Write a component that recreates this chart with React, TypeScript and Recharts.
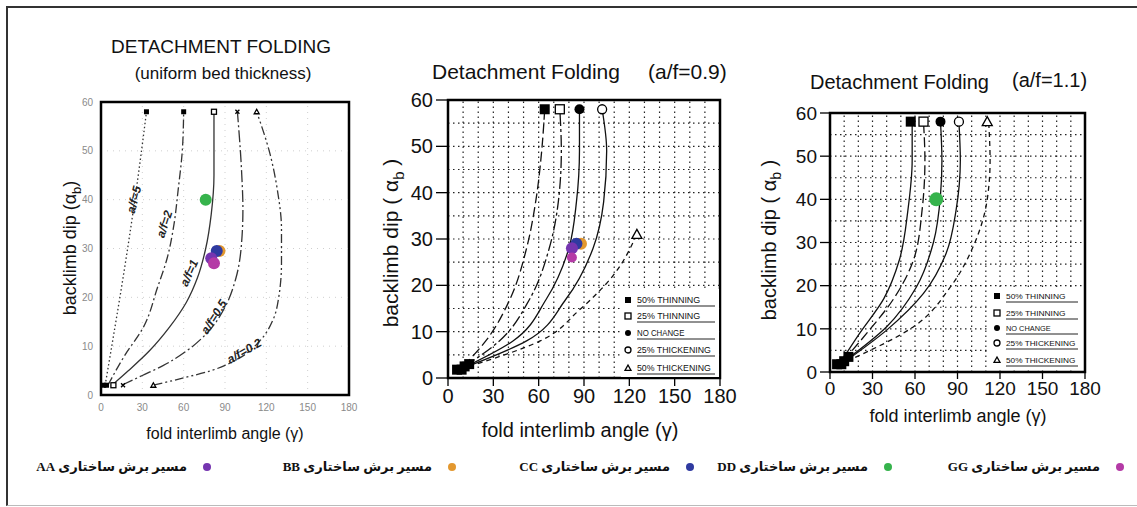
import React from 'react';
import { ComposedChart, Line, Scatter, XAxis, YAxis, ReferenceLine, ReferenceArea } from 'recharts';

type Pt = { x: number; y: number };

// ---------- axis ticks / grid values ----------
const xTicks = [0, 30, 60, 90, 120, 150, 180];
const yTicks = [0, 10, 20, 30, 40, 50, 60];
const gridXFine = [10, 20, 30, 40, 50, 60, 70, 80, 90, 100, 110, 120, 130, 140, 150, 160, 170];
const gridYFine = [5, 10, 15, 20, 25, 30, 35, 40, 45, 50, 55];
const gridXCoarse = [30, 60, 90, 120, 150];
const gridYCoarse = [10, 20, 30, 40, 50];

// ---------- panel 1: uniform bed thickness ----------
const p1AF5: Pt[] = [{ x: 3, y: 2 }, { x: 9, y: 12 }, { x: 16, y: 24 }, { x: 22, y: 35 }, { x: 28, y: 47 }, { x: 33, y: 58 }];
const p1AF2: Pt[] = [{ x: 5, y: 2 }, { x: 17, y: 8 }, { x: 31, y: 14 }, { x: 41, y: 22 }, { x: 48, y: 28 }, { x: 53, y: 35 }, { x: 56, y: 42 }, { x: 59, y: 50 }, { x: 60, y: 58 }];
const p1AF1: Pt[] = [{ x: 8, y: 2 }, { x: 20, y: 5 }, { x: 35, y: 9 }, { x: 50, y: 14 }, { x: 62, y: 19 }, { x: 70, y: 24 }, { x: 76, y: 30 }, { x: 80, y: 37 }, { x: 82, y: 45 }, { x: 82, y: 58 }];
const p1AF05: Pt[] = [{ x: 15, y: 2 }, { x: 30, y: 4 }, { x: 45, y: 6 }, { x: 62, y: 9 }, { x: 78, y: 13 }, { x: 90, y: 18 }, { x: 98, y: 24 }, { x: 102, y: 31 }, { x: 103, y: 38 }, { x: 102, y: 46 }, { x: 99, y: 58 }];
const p1AF02: Pt[] = [{ x: 38, y: 2 }, { x: 60, y: 3.5 }, { x: 80, y: 5 }, { x: 100, y: 7.5 }, { x: 115, y: 11 }, { x: 125, y: 15.5 }, { x: 129, y: 20 }, { x: 131, y: 27 }, { x: 131, y: 34 }, { x: 128, y: 42 }, { x: 123, y: 49 }, { x: 113, y: 58 }];
const p1TopFilledSq: Pt[] = [{ x: 33, y: 58 }, { x: 60, y: 58 }, { x: 2, y: 2 }, { x: 4, y: 2 }];
const p1OpenSq: Pt[] = [{ x: 82, y: 58 }, { x: 9, y: 2 }];
const p1Cross: Pt[] = [{ x: 99, y: 58 }, { x: 16, y: 2 }];
const p1Tri: Pt[] = [{ x: 113, y: 58 }, { x: 38, y: 2 }];
const p1CurveLabels = [
  { x: 24, y: 40, text: 'a/f=5' },
  { x: 46, y: 35, text: 'a/f=2' },
  { x: 64, y: 25, text: 'a/f=1' },
  { x: 82, y: 16, text: 'a/f=0.5' },
  { x: 104, y: 9, text: 'a/f=0.2' },
];
const p1LabelAngles = [-76, -72, -66, -58, -30];

// ---------- panel 2: a/f = 0.9 ----------
const p2Thin50: Pt[] = [{ x: 10, y: 2.5 }, { x: 25, y: 8 }, { x: 41, y: 17 }, { x: 52, y: 28 }, { x: 58, y: 38 }, { x: 62, y: 49 }, { x: 64, y: 58 }];
const p2Thin25: Pt[] = [{ x: 11, y: 2.5 }, { x: 34, y: 8 }, { x: 54, y: 17 }, { x: 67, y: 28 }, { x: 73, y: 38 }, { x: 75, y: 49 }, { x: 74, y: 58 }];
const p2NoChange: Pt[] = [{ x: 12, y: 2.5 }, { x: 43, y: 8 }, { x: 65, y: 17 }, { x: 80, y: 28 }, { x: 85, y: 38 }, { x: 87, y: 49 }, { x: 87, y: 58 }];
const p2Thick25: Pt[] = [{ x: 13, y: 2.5 }, { x: 52, y: 8 }, { x: 78, y: 17 }, { x: 96, y: 28 }, { x: 103, y: 38 }, { x: 105, y: 49 }, { x: 102, y: 58 }];
const p2Thick50: Pt[] = [{ x: 14, y: 2.5 }, { x: 61, y: 8 }, { x: 87, y: 14.7 }, { x: 109, y: 22 }, { x: 125, y: 31 }];
const p2FilledSq: Pt[] = [{ x: 64, y: 58 }, { x: 6, y: 1.8 }, { x: 9, y: 1.8 }, { x: 11, y: 2.5 }, { x: 14, y: 3 }];
const p2OpenSq: Pt[] = [{ x: 74, y: 58 }];
const p2FilledCi: Pt[] = [{ x: 87, y: 58 }];
const p2OpenCi: Pt[] = [{ x: 102, y: 58 }];
const p2Tri: Pt[] = [{ x: 125, y: 31 }];

// ---------- panel 3: a/f = 1.1 ----------
const p3Thin50: Pt[] = [{ x: 8, y: 2.5 }, { x: 21, y: 9 }, { x: 38, y: 17 }, { x: 49, y: 26 }, { x: 55, y: 37.5 }, { x: 58, y: 49 }, { x: 58, y: 58 }];
const p3Thin25: Pt[] = [{ x: 9, y: 2.5 }, { x: 26, y: 9 }, { x: 45, y: 17 }, { x: 59, y: 26 }, { x: 65, y: 37.5 }, { x: 67, y: 49 }, { x: 66, y: 58 }];
const p3NoChange: Pt[] = [{ x: 10, y: 2.5 }, { x: 40, y: 10.5 }, { x: 61, y: 19.7 }, { x: 73, y: 30 }, { x: 78, y: 41 }, { x: 79, y: 49 }, { x: 78, y: 58 }];
const p3Thick25: Pt[] = [{ x: 11, y: 2.5 }, { x: 40, y: 9.7 }, { x: 66, y: 18.2 }, { x: 82, y: 27.5 }, { x: 89, y: 37.5 }, { x: 92, y: 49 }, { x: 91, y: 58 }];
const p3Thick50: Pt[] = [{ x: 12, y: 2.5 }, { x: 59, y: 10.5 }, { x: 85, y: 19.7 }, { x: 101, y: 29 }, { x: 111, y: 40 }, { x: 113, y: 49 }, { x: 112, y: 58 }];
const p3FilledSq: Pt[] = [{ x: 57, y: 58 }, { x: 5, y: 1.8 }, { x: 8, y: 1.8 }, { x: 10, y: 2.5 }, { x: 13, y: 3.5 }];
const p3OpenSq: Pt[] = [{ x: 66, y: 58 }];
const p3FilledCi: Pt[] = [{ x: 78, y: 58 }];
const p3OpenCi: Pt[] = [{ x: 91, y: 58 }];
const p3Tri: Pt[] = [{ x: 111, y: 58 }];

// ---------- structural cross-section points ----------
const p1AA: Pt[] = [{ x: 80, y: 28 }];
const p1BB: Pt[] = [{ x: 86, y: 29.5 }];
const p1CC: Pt[] = [{ x: 84, y: 29.5 }];
const p1DD: Pt[] = [{ x: 76, y: 40 }];
const p1GG: Pt[] = [{ x: 82, y: 27 }];
const p2AA: Pt[] = [{ x: 82, y: 28 }];
const p2BB: Pt[] = [{ x: 88, y: 29 }];
const p2CC: Pt[] = [{ x: 85, y: 29 }];
const p2GG: Pt[] = [{ x: 82, y: 26 }];
const p3DD: Pt[] = [{ x: 75, y: 40 }];

const legendNames = ['مسیر برش ساختاری AA', 'مسیر برش ساختاری BB', 'مسیر برش ساختاری CC', 'مسیر برش ساختاری DD', 'مسیر برش ساختاری GG'];
const modelNames = ['50% THINNING', '25% THINNING', 'NO CHANGE', '25% THICKENING', '50% THICKENING'];

const C_AA = '#7535b0';
const C_BB = '#e3982f';
const C_CC = '#2f3aa0';
const C_DD = '#36b34c';
const C_GG = '#b43aa6';
const legendColors = [C_AA, C_BB, C_CC, C_DD, C_GG];
const legendDotX = [207, 452, 690, 888, 1120];

type Kind = 'fsq' | 'osq' | 'fci' | 'oci' | 'tri' | 'x';

function Sym({ cx, cy, kind, s }: { cx: number; cy: number; kind: Kind; s: number }) {
  const h = s / 2;
  switch (kind) {
    case 'fsq':
      return <rect x={cx - h} y={cy - h} width={s} height={s} fill="#000" />;
    case 'osq':
      return <rect x={cx - h} y={cy - h} width={s} height={s} fill="#fff" stroke="#000" strokeWidth={1.3} />;
    case 'fci':
      return <circle cx={cx} cy={cy} r={h} fill="#000" />;
    case 'oci':
      return <circle cx={cx} cy={cy} r={h} fill="#fff" stroke="#000" strokeWidth={1.3} />;
    case 'tri':
      return <polygon points={`${cx},${cy - h} ${cx + h},${cy + h * 0.8} ${cx - h},${cy + h * 0.8}`} fill="#fff" stroke="#000" strokeWidth={1.3} />;
    default:
      return <path d={`M${cx - h},${cy - h}L${cx + h},${cy + h}M${cx + h},${cy - h}L${cx - h},${cy + h}`} stroke="#000" strokeWidth={1.3} />;
  }
}

const symShape = (kind: Kind, s: number) => (p: any) => <Sym cx={p.cx} cy={p.cy} kind={kind} s={s} />;
const dotShape = (color: string, r: number) => (p: any) => <circle cx={p.cx} cy={p.cy} r={r} fill={color} />;

type CurveDef = { data: Pt[]; dash?: string };
type MarkDef = { data: Pt[]; kind: Kind; s: number };
type DotDef = { data: Pt[]; color: string; r: number };

function Panel(props: {
  left: number; top: number; width: number; height: number;
  margin: { top: number; right: number; bottom: number; left: number };
  yWidth: number; xHeight: number;
  curves: CurveDef[]; marks: MarkDef[]; dots: DotDef[];
  gridX: number[]; gridY: number[]; gridColor: string; gridDash: string; gridWidth: number;
  tickFont: number; tickColor: string; tickLine: boolean;
  xTickSize: number; yTickSize: number; xTickMargin: number; yTickMargin: number;
  curveColor: string;
  children?: React.ReactNode;
}) {
  const p = props;
  const tick = { fontSize: p.tickFont, fill: p.tickColor, fontFamily: '"Liberation Sans", Arial, sans-serif' };
  return (
    <div style={{ position: 'absolute', left: p.left, top: p.top }}>
      <ComposedChart width={p.width} height={p.height} margin={p.margin}>
        <XAxis type="number" dataKey="x" domain={[0, 180]} ticks={xTicks} allowDataOverflow
          tick={tick} tickLine={p.tickLine ? { stroke: '#000', strokeWidth: 1.3 } : false}
          tickSize={p.xTickSize} tickMargin={p.xTickMargin} height={p.xHeight}
          axisLine={{ stroke: '#000', strokeWidth: 2 }} interval={0} />
        <YAxis type="number" dataKey="y" domain={[0, 60]} ticks={yTicks} allowDataOverflow
          tick={tick} tickLine={p.tickLine ? { stroke: '#000', strokeWidth: 1.3 } : false}
          tickSize={p.yTickSize} tickMargin={p.yTickMargin} width={p.yWidth}
          axisLine={{ stroke: '#000', strokeWidth: 2 }} interval={0} />
        {p.gridX.map((g) => (
          <ReferenceLine key={'gx' + g} x={g} stroke={p.gridColor} strokeDasharray={p.gridDash} strokeWidth={p.gridWidth} />
        ))}
        {p.gridY.map((g) => (
          <ReferenceLine key={'gy' + g} y={g} stroke={p.gridColor} strokeDasharray={p.gridDash} strokeWidth={p.gridWidth} />
        ))}
        {p.curves.map((c, i) => (
          <Line key={'c' + i} data={c.data} dataKey="y" type="monotoneY" stroke={p.curveColor} strokeWidth={1.3}
            strokeDasharray={c.dash} dot={false} activeDot={false} isAnimationActive={false} legendType="none" />
        ))}
        {p.marks.map((m, i) => (
          <Scatter key={'m' + i} data={m.data} dataKey="y" shape={symShape(m.kind, m.s)} isAnimationActive={false} legendType="none" />
        ))}
        {p.dots.map((d, i) => (
          <Scatter key={'d' + i} data={d.data} dataKey="y" shape={dotShape(d.color, d.r)} isAnimationActive={false} legendType="none" />
        ))}
        <ReferenceArea x1={0} x2={180} y1={0} y2={60} fill="none" stroke="#000" strokeWidth={2.5} fillOpacity={0} />
        {p.children}
      </ComposedChart>
    </div>
  );
}

function CurveLabels() {
  return (
    <Scatter data={p1CurveLabels} dataKey="y" isAnimationActive={false} legendType="none"
      shape={(p: any) => {
        const idx = p1CurveLabels.findIndex((l) => l.text === p.payload.text);
        return (
          <text x={p.cx} y={p.cy} transform={`rotate(${p1LabelAngles[idx]} ${p.cx} ${p.cy})`} textAnchor="middle"
            dominantBaseline="central" fontSize={12} fontWeight="bold" fontStyle="italic" fill="#222"
            fontFamily='"Liberation Sans", Arial, sans-serif'>{p.payload.text}</text>
        );
      }} />
  );
}

function ModelLegend({ left, top, width, height, rowY, markX, textX, lineEnd, font }: {
  left: number; top: number; width: number; height: number; rowY: number[]; markX: number; textX: number; lineEnd: number; font: number;
}) {
  const kinds: Kind[] = ['fsq', 'osq', 'fci', 'oci', 'tri'];
  return (
    <svg style={{ position: 'absolute', left, top }} width={width} height={height}>
      <rect x={0} y={0} width={width} height={height} fill="#fff" />
      {modelNames.map((n, i) => (
        <g key={n}>
          <Sym cx={markX - left} cy={rowY[i] - top} kind={kinds[i]} s={6} />
          <text x={textX - left} y={rowY[i] - top + 3} fontSize={font} fill="#111"
            fontFamily='"Liberation Sans", Arial, sans-serif' textLength={n.length * font * 0.62} lengthAdjust="spacingAndGlyphs">{n}</text>
          <line x1={textX - left} x2={lineEnd - left} y1={rowY[i] - top + 6} y2={rowY[i] - top + 6} stroke="#222" strokeWidth={1} />
        </g>
      ))}
    </svg>
  );
}

const sans = '"Liberation Sans", Arial, sans-serif';

function Txt({ x, y, size, children, rotate, weight }: { x: number; y: number; size: number; children: React.ReactNode; rotate?: boolean; weight?: string }) {
  return (
    <div style={{
      position: 'absolute', left: x, top: y, transform: `translate(-50%,-50%)${rotate ? ' rotate(-90deg)' : ''}`,
      whiteSpace: 'nowrap', fontSize: size, fontFamily: sans, color: '#111', fontWeight: weight || 'normal', lineHeight: 1,
    }}>{children}</div>
  );
}

export default function App() {
  return (
    <div style={{ position: 'absolute', left: 0, top: 0, width: 1137, height: 507, background: '#fff', overflow: 'hidden' }}>
      <div style={{ position: 'absolute', left: 6, top: 6, width: 1140, height: 497, borderLeft: '2px solid #333', borderTop: '2px solid #333', borderBottom: '1px solid #bbb' }} />

      {/* Panel 1 */}
      <Txt x={221} y={46} size={19}>DETACHMENT FOLDING</Txt>
      <Txt x={223} y={73} size={17}>(uniform bed thickness)</Txt>
      <Txt x={72} y={248} size={18} rotate>backlimb dip (α<sub style={{ fontSize: 13 }}>b</sub>)</Txt>
      <Txt x={225} y={434} size={16}>fold interlimb angle (γ)</Txt>
      <Panel left={40} top={92} width={320} height={330}
        margin={{ top: 10, right: 11, bottom: 2, left: 21 }} yWidth={40} xHeight={25}
        curves={[
          { data: p1AF5, dash: '1.5 2.5' },
          { data: p1AF2, dash: '9 3 2 3' },
          { data: p1AF1 },
          { data: p1AF05, dash: '12 3 2 3' },
          { data: p1AF02, dash: '9 3 2 3 2 3' },
        ]}
        marks={[
          { data: p1TopFilledSq, kind: 'fsq', s: 5 },
          { data: p1OpenSq, kind: 'osq', s: 5 },
          { data: p1Cross, kind: 'x', s: 4 },
          { data: p1Tri, kind: 'tri', s: 5 },
        ]}
        dots={[
          { data: p1BB, color: C_BB, r: 6 },
          { data: p1DD, color: C_DD, r: 6 },
          { data: p1CC, color: C_CC, r: 6 },
          { data: p1AA, color: C_AA, r: 6 },
          { data: p1GG, color: C_GG, r: 6 },
        ]}
        gridX={gridXCoarse} gridY={gridYCoarse} gridColor="#cfcfcf" gridDash="1 5" gridWidth={1}
        tickFont={10} tickColor="#8a8a8a" tickLine={false}
        xTickSize={4} yTickSize={4} xTickMargin={5} yTickMargin={4}
        curveColor="#333">
        {CurveLabels()}
      </Panel>

      {/* Panel 2 */}
      <div style={{ position: 'absolute', left: 432, top: 61, fontSize: 21, fontFamily: sans, whiteSpace: 'nowrap', color: '#111', lineHeight: 1 }}>Detachment Folding</div>
      <div style={{ position: 'absolute', left: 648, top: 61, fontSize: 21, fontFamily: sans, whiteSpace: 'nowrap', color: '#111', lineHeight: 1 }}>(a/f=0.9)</div>
      <Txt x={393} y={243} size={21} rotate>backlimb dip ( α<sub style={{ fontSize: 15 }}>b</sub> )</Txt>
      <Txt x={580} y={430} size={20}>fold interlimb angle (γ)</Txt>
      <Panel left={380} top={85} width={370} height={340}
        margin={{ top: 15, right: 30, bottom: 12, left: 18 }} yWidth={50} xHeight={35}
        curves={[
          { data: p2Thin50, dash: '10 4' },
          { data: p2Thin25, dash: '12 3 3 3' },
          { data: p2NoChange },
          { data: p2Thick25 },
          { data: p2Thick50, dash: '5 4' },
        ]}
        marks={[
          { data: p2FilledSq, kind: 'fsq', s: 10 },
          { data: p2OpenSq, kind: 'osq', s: 9 },
          { data: p2FilledCi, kind: 'fci', s: 10 },
          { data: p2OpenCi, kind: 'oci', s: 9 },
          { data: p2Tri, kind: 'tri', s: 10 },
        ]}
        dots={[
          { data: p2BB, color: C_BB, r: 6 },
          { data: p2CC, color: C_CC, r: 6 },
          { data: p2AA, color: C_AA, r: 6 },
          { data: p2GG, color: C_GG, r: 5 },
        ]}
        gridX={gridXFine} gridY={gridYFine} gridColor="#222" gridDash="1.5 3.5" gridWidth={1.2}
        tickFont={20} tickColor="#111" tickLine={true}
        xTickSize={8} yTickSize={12} xTickMargin={3} yTickMargin={3}
        curveColor="#111" />
      <ModelLegend left={621} top={289} width={98} height={88} rowY={[300, 316, 333, 350, 368]} markX={628} textX={637} lineEnd={715} font={8.5} />

      {/* Panel 3 */}
      <div style={{ position: 'absolute', left: 810, top: 72, fontSize: 20, fontFamily: sans, whiteSpace: 'nowrap', color: '#111', lineHeight: 1 }}>Detachment Folding</div>
      <div style={{ position: 'absolute', left: 1012, top: 70, fontSize: 20, fontFamily: sans, whiteSpace: 'nowrap', color: '#111', lineHeight: 1 }}>(a/f=1.1)</div>
      <Txt x={771} y={240} size={20} rotate>backlimb dip ( α<sub style={{ fontSize: 14 }}>b</sub> )</Txt>
      <Txt x={958} y={416} size={18}>fold interlimb angle (γ)</Txt>
      <Panel left={760} top={98} width={355} height={320}
        margin={{ top: 15, right: 30, bottom: 11, left: 20 }} yWidth={50} xHeight={35}
        curves={[
          { data: p3Thin50 },
          { data: p3Thin25, dash: '10 4' },
          { data: p3NoChange },
          { data: p3Thick25 },
          { data: p3Thick50, dash: '5 4' },
        ]}
        marks={[
          { data: p3FilledSq, kind: 'fsq', s: 10 },
          { data: p3OpenSq, kind: 'osq', s: 9 },
          { data: p3FilledCi, kind: 'fci', s: 10 },
          { data: p3OpenCi, kind: 'oci', s: 9 },
          { data: p3Tri, kind: 'tri', s: 10 },
        ]}
        dots={[{ data: p3DD, color: C_DD, r: 7 }]}
        gridX={gridXFine} gridY={gridYFine} gridColor="#222" gridDash="1.5 3.5" gridWidth={1.2}
        tickFont={19} tickColor="#111" tickLine={true}
        xTickSize={7} yTickSize={10} xTickMargin={3} yTickMargin={3}
        curveColor="#111" />
      <ModelLegend left={989} top={287} width={94} height={83} rowY={[296, 313, 328, 343, 360]} markX={997} textX={1006} lineEnd={1078} font={8} />

      {/* bottom legend */}
      {legendNames.map((n, i) => (
        <React.Fragment key={n}>
          <div style={{ position: 'absolute', left: legendDotX[i] - 4, top: 463, width: 8, height: 8, borderRadius: 4, background: legendColors[i] }} />
          <div dir="rtl" style={{
            position: 'absolute', right: 1137 - (legendDotX[i] - 20), top: 458, fontSize: 13, fontWeight: 'bold',
            fontFamily: '"Liberation Serif", "DejaVu Serif", "DejaVu Sans", serif', whiteSpace: 'nowrap', color: '#111', lineHeight: '18px',
          }}>{n}</div>
        </React.Fragment>
      ))}
    </div>
  );
}
